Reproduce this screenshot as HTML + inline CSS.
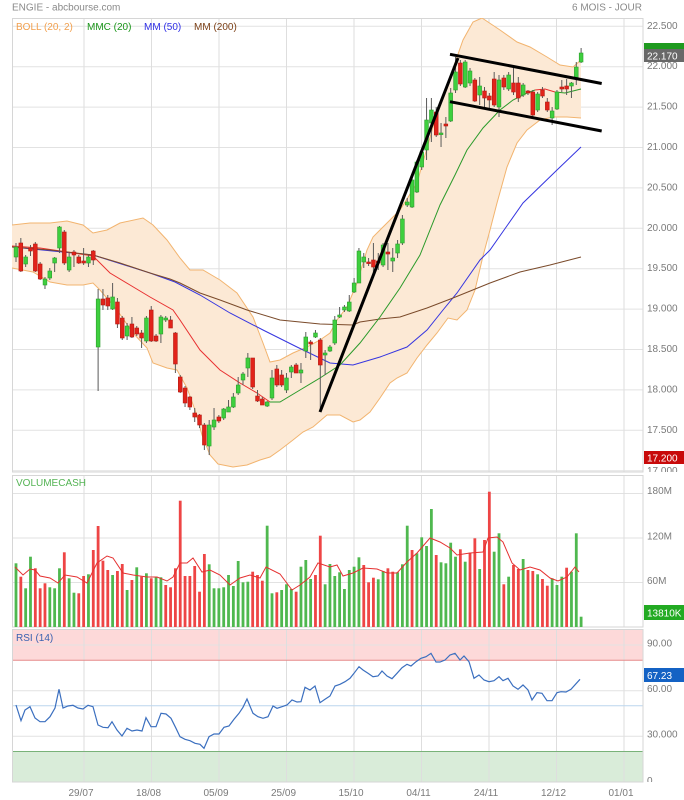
<!DOCTYPE html>
<html><head><meta charset="utf-8">
<style>
html,body{margin:0;padding:0;background:#fff;}
body{width:684px;height:800px;overflow:hidden;position:relative;font-family:"Liberation Sans",Arial,sans-serif;}
svg{position:absolute;left:0;top:0;display:block;}
</style></head><body>
<svg id="c" width="684" height="800" viewBox="0 0 684 800" xmlns="http://www.w3.org/2000/svg" font-family="Liberation Sans, Arial, sans-serif">
<defs>
 <clipPath id="cpP"><rect x="12" y="18" width="631" height="454"/></clipPath>
 <clipPath id="cpV"><rect x="12" y="475" width="631" height="152"/></clipPath>
 <clipPath id="cpR"><rect x="12" y="629" width="631" height="153"/></clipPath>
 <clipPath id="cpPL"><rect x="644" y="18" width="40" height="454"/></clipPath>
 <clipPath id="cpRL"><rect x="644" y="629" width="40" height="153"/></clipPath>
</defs>
<rect x="0" y="0" width="684" height="800" fill="#fff"/>

<!-- RSI zones -->
<rect x="12" y="629" width="631" height="31" fill="#fdd9d9"/>
<rect x="12" y="751" width="631" height="31" fill="#d9ecd9"/>

<!-- grid -->
<g stroke="#e2e2e2" stroke-width="1" fill="none">
 <line x1="12" x2="643" y1="26.3" y2="26.3"/>
 <line x1="12" x2="643" y1="66.7" y2="66.7"/>
 <line x1="12" x2="643" y1="107.1" y2="107.1"/>
 <line x1="12" x2="643" y1="147.5" y2="147.5"/>
 <line x1="12" x2="643" y1="187.9" y2="187.9"/>
 <line x1="12" x2="643" y1="228.3" y2="228.3"/>
 <line x1="12" x2="643" y1="268.7" y2="268.7"/>
 <line x1="12" x2="643" y1="309.1" y2="309.1"/>
 <line x1="12" x2="643" y1="349.5" y2="349.5"/>
 <line x1="12" x2="643" y1="389.9" y2="389.9"/>
 <line x1="12" x2="643" y1="430.3" y2="430.3"/>
 <line x1="12" x2="643" y1="470.7" y2="470.7"/>
 <line x1="12" x2="643" y1="493.5" y2="493.5"/>
 <line x1="12" x2="643" y1="538" y2="538"/>
 <line x1="12" x2="643" y1="582.5" y2="582.5"/>
 <line x1="12" x2="643" y1="645" y2="645"/>
 <line x1="12" x2="643" y1="690.7" y2="690.7"/>
 <line x1="12" x2="643" y1="736.3" y2="736.3"/>
</g>
<g id="vgrid" stroke="#dedede" stroke-width="1"></g>
<line x1="12" x2="643" y1="660.3" y2="660.3" stroke="#e58a8a" stroke-width="1"/>
<line x1="12" x2="643" y1="751.5" y2="751.5" stroke="#79b279" stroke-width="1"/>
<line x1="12" x2="643" y1="705.7" y2="705.7" stroke="#bcd5ee" stroke-width="1"/>

<!-- panel borders -->
<g stroke="#d6d6d6" stroke-width="1" fill="none">
 <rect x="12.5" y="18.5" width="630.5" height="453.5"/>
 <rect x="12.5" y="475.5" width="630.5" height="151.5"/>
 <rect x="12.5" y="629.5" width="630.5" height="152.5"/>
</g>

<g clip-path="url(#cpP)">
 <g id="band"></g>
 <g id="mas"></g>
 <g id="candles"></g>
 <g stroke="#000" stroke-width="3" fill="none" stroke-linecap="butt">
  <line x1="320" y1="412" x2="458" y2="58"/>
  <line x1="450" y1="54.3" x2="601.7" y2="83.5"/>
  <line x1="450" y1="101.7" x2="601.7" y2="131"/>
 </g>
</g>
<g clip-path="url(#cpV)">
 <g id="vol"></g>
 <polyline id="vavg" fill="none" stroke="#e53030" stroke-width="1"/>
</g>
<g clip-path="url(#cpR)">
 <polyline id="rsi" fill="none" stroke="#3b6fbf" stroke-width="1.2"/>
</g>

<!-- texts -->
<text x="12" y="10.5" font-size="10" fill="#8a8a8a">ENGIE - abcbourse.com</text>
<text x="642" y="10.5" font-size="10" fill="#8a8a8a" text-anchor="end">6 MOIS - JOUR</text>
<g font-size="10">
 <text x="16" y="30" fill="#f2a04e">BOLL (20, 2)</text>
 <text x="87" y="30" fill="#1a951a">MMC (20)</text>
 <text x="144" y="30" fill="#2f2fe6">MM (50)</text>
 <text x="194" y="30" fill="#7b3f16">MM (200)</text>
 <text x="16" y="486" fill="#55b455">VOLUMECASH</text>
 <text x="16" y="641" fill="#3a62b0">RSI (14)</text>
</g>

<g font-size="10" fill="#7a7a7a" clip-path="url(#cpPL)">
 <text x="647" y="28.8">22.500</text>
 <text x="647" y="69.2">22.000</text>
 <text x="647" y="109.6">21.500</text>
 <text x="647" y="150">21.000</text>
 <text x="647" y="190.4">20.500</text>
 <text x="647" y="230.8">20.000</text>
 <text x="647" y="271.2">19.500</text>
 <text x="647" y="311.6">19.000</text>
 <text x="647" y="352">18.500</text>
 <text x="647" y="392.4">18.000</text>
 <text x="647" y="432.8">17.500</text>
 <text x="647" y="473.8">17.000</text>
</g>
<g font-size="10" fill="#7a7a7a">
 <text x="647" y="494">180M</text>
 <text x="647" y="539.5">120M</text>
 <text x="647" y="584">60M</text>
</g>
<g font-size="10" fill="#7a7a7a" clip-path="url(#cpRL)">
 <text x="647" y="646.6">90.00</text>
 <text x="647" y="692">60.00</text>
 <text x="647" y="737.6">30.000</text>
 <text x="647" y="784">0</text>
</g>
<g font-size="10" fill="#7a7a7a" text-anchor="middle">
 <text x="81" y="796">29/07</text>
 <text x="148.5" y="796">18/08</text>
 <text x="216" y="796">05/09</text>
 <text x="283.5" y="796">25/09</text>
 <text x="351" y="796">15/10</text>
 <text x="418.5" y="796">04/11</text>
 <text x="486" y="796">24/11</text>
 <text x="553.5" y="796">12/12</text>
 <text x="621" y="796">01/01</text>
</g>

<!-- value boxes -->
<rect x="644" y="43" width="40" height="13" fill="#1f9a1f"/>
<rect x="644" y="49" width="40" height="13" fill="#686868"/>
<text x="647" y="59.5" font-size="10" fill="#fff">22.170</text>
<rect x="644" y="451" width="40" height="13" fill="#c80a0a"/>
<text x="647" y="461.3" font-size="10" fill="#fff">17.200</text>
<rect x="644" y="605" width="40" height="15" fill="#22aa22"/>
<text x="647" y="616.3" font-size="10" fill="#fff">13810K</text>
<rect x="644" y="668" width="40" height="14" fill="#1462c4"/>
<text x="647" y="679" font-size="10" fill="#fff">67.23</text>
</svg>
<script>
(function(){
var NS="http://www.w3.org/2000/svg";
function el(t,a,p){var e=document.createElementNS(NS,t);for(var k in a)e.setAttribute(k,a[k]);p.appendChild(e);return e;}
function $(id){return document.getElementById(id);}
function X(i){return 16+i*4.83;}
function pts(a){return a.map(function(p){return p[0]+","+p[1];}).join(" ");}

// vertical grid
var vx=[84,151.5,219,286.5,354,421.5,489,556.5,624];
vx.forEach(function(x){
  [[18,472],[475,627],[629,782]].forEach(function(r){
    el("line",{x1:x,x2:x,y1:r[0],y2:r[1]},$("vgrid"));
  });
});

// Bollinger
var up=[[12,225],[30,223],[50,223],[67,221],[83,225],[93,233],[107,230],[120,223],[143,218],[153,225],[167,240],[180,258],[190,270],[203,270],[220,280],[237,293],[253,317],[263,343],[270,362],[280,360],[293,353],[307,347],[320,340],[330,333],[337,320],[347,307],[357,283],[367,250],[373,237],[380,230],[400,210],[417,183],[433,127],[450,77],[463,40],[473,22],[482,18],[488,22],[500,30],[517,42],[530,47],[547,57],[560,65],[573,67],[581,60]];
var lo=[[12,268],[33,272],[50,282],[67,285],[83,285],[93,283],[100,290],[117,310],[133,333],[147,348],[153,363],[167,368],[177,370],[187,388],[195,410],[202,435],[210,455],[218,464],[233,467],[247,465],[260,460],[270,457],[280,450],[293,440],[303,432],[313,427],[327,415],[340,415],[353,422],[360,420],[370,412],[380,398],[390,383],[397,378],[407,373],[417,358],[427,345],[437,333],[448,318],[457,320],[467,310],[475,290],[483,256],[490,230],[497,203],[507,167],[517,143],[527,130],[540,120],[553,117],[567,117],[581,118]];
var b=$("band");
el("polygon",{points:pts(up.concat(lo.slice().reverse())),fill:"#fce9d5",stroke:"none"},b);
el("polyline",{points:pts(up),fill:"none",stroke:"#f2b46f","stroke-width":1},b);
el("polyline",{points:pts(lo),fill:"none",stroke:"#f2b46f","stroke-width":1},b);

// MAs
var m=$("mas");
var blue=[[12,247],[93,255],[150,273],[175,282],[200,295],[230,313],[263,330],[297,347],[330,363],[353,365],[380,357],[407,347],[427,330],[443,310],[457,293],[480,260],[490,250],[523,203],[557,170],[581,147]];
var brown=[[12,247],[50,250],[93,255],[120,263],[150,273],[170,279],[180,283],[200,293],[220,300],[247,310],[280,320],[320,324],[353,325],[360,322],[380,319],[400,317],[427,308],[453,298],[490,283],[520,272],[550,265],[581,257]];
var red1=[[12,246],[40,248],[67,252],[93,256],[110,273],[130,285],[150,297],[173,310],[180,320],[200,350],[220,370],[240,383],[257,393],[270,402]];
var green1=[[270,402],[280,402],[300,390],[320,378],[340,365],[360,343],[380,317],[400,288],[420,255],[440,205],[455,175],[467,150],[483,128],[500,110],[513,100],[527,93],[535,90]];
var red2=[[535,90],[545,89],[555,92]];
var green2=[[555,92],[565,93],[581,89]];
el("polyline",{points:pts(blue),fill:"none",stroke:"#3535e0","stroke-width":1},m);
el("polyline",{points:pts(red1),fill:"none",stroke:"#e83030","stroke-width":1},m);
el("polyline",{points:pts(brown),fill:"none",stroke:"#7a4a2a","stroke-width":1},m);
el("polyline",{points:pts(green1),fill:"none",stroke:"#2a9a2a","stroke-width":1},m);
el("polyline",{points:pts(red2),fill:"none",stroke:"#e83030","stroke-width":1},m);
el("polyline",{points:pts(green2),fill:"none",stroke:"#2a9a2a","stroke-width":1},m);

// candles: [bodyTop, bodyBot, wickTop, wickBot, color]
var C=[
[247,257,243,262,"g"],[243,271,238,272,"r"],[257,264,255,267,"g"],[248,251,245,256,"r"],[244,271,242,272,"r"],
[264,279,262,280,"r"],[279,285,277,289,"g"],[271,278,268,280,"g"],[258,263,257,272,"g"],[227,248,226,253,"g"],
[232,263,230,265,"r"],[257,270,253,272,"g"],[252,255,250,267,"r"],[257,263,255,264,"r"],[261,263,248,265,"r"],
[257,263,255,267,"g"],[251,260,250,265,"r"],[299,347,289,391,"g"],[299,305,289,310,"r"],[298,306,295,310,"r"],
[297,309,283,310,"g"],[302,324,298,328,"r"],[318,338,316,340,"r"],[326,336,323,340,"g"],[324,337,317,338,"r"],
[328,334,326,336,"r"],[333,338,330,348,"r"],[318,341,316,343,"g"],[310,341,306,342,"r"],[336,341,334,342,"r"],
[317,334,315,343,"g"],[318,320,316,322,"g"],[320,328,316,328,"r"],[333,364,332,373,"r"],[377,392,375,393,"r"],
[388,403,386,407,"r"],[397,407,396,410,"r"],[413,417,408,422,"r"],[415,425,414,428,"r"],[425,445,423,450,"r"],
[425,446,420,455,"g"],[420,427,408,430,"g"],[417,421,415,423,"r"],[409,418,408,420,"g"],[407,412,400,412,"g"],
[397,407,393,408,"g"],[385,393,377,395,"g"],[374,380,372,385,"g"],[358,368,353,377,"g"],[358,387,358,389,"r"],
[396,401,390,402,"r"],[399,405,397,405,"r"],[402,406,401,407,"g"],[378,398,370,400,"g"],[369,385,365,387,"r"],
[375,385,370,387,"r"],[378,390,373,393,"g"],[367,372,365,378,"g"],[365,373,363,373,"r"],[370,373,363,383,"g"],
[337,351,332,358,"g"],[342,344,340,360,"r"],[333,337,330,338,"g"],[340,365,338,412,"r"],[353,355,350,375,"g"],
[347,351,345,352,"g"],[320,343,316,345,"g"],[315,317,307,318,"g"],[307,310,305,312,"g"],[302,311,295,312,"g"],
[283,292,278,293,"g"],[251,283,248,283,"g"],[257,262,253,268,"g"],[262,263,258,266,"r"],[260,267,243,273,"r"],
[261,263,253,270,"r"],[245,265,243,267,"g"],[252,254,243,270,"r"],[258,261,248,272,"g"],[244,253,240,258,"g"],
[219,243,215,245,"g"],[202,205,198,207,"g"],[180,207,178,208,"g"],[162,192,160,193,"g"],[152,167,150,170,"g"],
[120,150,98,160,"g"],[110,123,98,142,"g"],[112,135,107,137,"r"],[133,134,123,147,"g"],[124,126,117,138,"r"],
[93,121,88,122,"g"],[72,90,57,93,"g"],[63,84,60,86,"r"],[62,87,60,88,"g"],[71,83,68,86,"g"],
[80,101,78,102,"r"],[86,95,77,105,"g"],[91,98,87,107,"r"],[96,100,93,108,"r"],[79,105,72,107,"r"],
[80,107,75,117,"g"],[78,87,75,90,"r"],[75,89,72,91,"g"],[83,92,68,95,"r"],[83,98,77,102,"r"],
[85,95,83,97,"g"],[91,93,90,95,"r"],[92,115,90,117,"r"],[94,110,92,112,"g"],[90,96,87,98,"r"],
[102,110,98,112,"r"],[111,118,107,125,"g"],[92,109,90,110,"g"],[87,89,80,92,"r"],[86,89,79,95,"r"],
[83,86,82,98,"g"],[67,78,62,85,"g"],[53,62,48,63,"g"]
];
var cg=$("candles");
C.forEach(function(c,i){
  var x=X(i);
  el("line",{x1:x,x2:x,y1:c[2],y2:c[3],stroke:"#5a5a5a","stroke-width":1},cg);
  var h=Math.max(1.6,c[1]-c[0]);
  var g=c[4]=="g";
  el("rect",{x:x-1.9,y:c[0],width:3.8,height:h,fill:g?"#3ecf3e":"#e2231a",stroke:g?"#2e9f2e":"#b31a12","stroke-width":0.6},cg);
});

// volume: top y, color
var V=[
[563.3,"g"],[576.7,"r"],[588.3,"g"],[556.7,"g"],[568.3,"r"],[588.3,"r"],[583.3,"r"],[587.3,"g"],[588.3,"g"],[568.3,"g"],
[552.3,"r"],[578.3,"g"],[592.7,"g"],[593.3,"r"],[576,"r"],[574.3,"g"],[550,"r"],[526,"r"],[560.7,"r"],[570,"r"],
[575,"g"],[571,"r"],[564,"r"],[590,"g"],[580,"r"],[567.3,"g"],[576.7,"r"],[573.3,"g"],[578.3,"r"],[576.7,"g"],
[577.3,"g"],[585,"r"],[587.3,"r"],[568.3,"r"],[500.7,"r"],[576,"r"],[576,"r"],[566,"r"],[591.7,"r"],[554,"r"],
[564.3,"g"],[588.3,"g"],[588.3,"g"],[587.3,"g"],[575,"g"],[586,"g"],[561,"g"],[582.3,"g"],[581.7,"g"],[571.7,"r"],
[575,"r"],[580.7,"r"],[525.7,"g"],[593.3,"g"],[592.3,"r"],[590,"g"],[584.3,"g"],[589,"g"],[591.7,"r"],[566.7,"g"],
[560,"g"],[579,"g"],[575,"r"],[535.7,"r"],[584.3,"g"],[564,"g"],[576,"g"],[572.3,"g"],[589,"g"],[570,"g"],
[566.7,"g"],[557.3,"g"],[565,"r"],[582.3,"r"],[577.7,"r"],[579.3,"g"],[571,"g"],[568.3,"r"],[571.7,"r"],[572.3,"g"],
[564.3,"g"],[525.7,"g"],[550,"r"],[553.3,"g"],[537.3,"g"],[546,"g"],[509,"g"],[555,"r"],[562.3,"g"],[563.3,"g"],
[542.7,"g"],[556.7,"g"],[549.3,"r"],[561.7,"g"],[552.7,"r"],[538.3,"r"],[569,"g"],[540,"r"],[491.7,"r"],[551.7,"g"],
[533.3,"g"],[584.3,"r"],[576.7,"g"],[565,"r"],[569,"r"],[559,"g"],[570,"r"],[571,"r"],[574.3,"g"],[579,"r"],
[585.7,"r"],[578.3,"g"],[585,"g"],[576.7,"g"],[567.7,"r"],[571.7,"g"],[533.3,"g"],[616.7,"g"]
];
var vg=$("vol");
V.forEach(function(v,i){
  var x=X(i);
  el("rect",{x:x-1.4,y:v[0],width:2.8,height:627-v[0],fill:v[1]=="g"?"#4fb84f":"#ee4545"},vg);
});

var VA=[[15,567],[23,575],[30,569],[35,570],[40,576],[50,578],[58,583],[65,575],[77,577],[87,583],[97,563],[107,556],[113,558],[123,573],[133,575],[147,577],[157,577],[167,581],[173,577],[180,563],[187,563],[193,558],[202,572],[210,570],[220,575],[230,585],[240,578],[250,575],[260,578],[266,567],[280,574],[292,590],[300,585],[310,577],[318,563],[330,567],[337,565],[343,576],[353,573],[363,568],[377,569],[387,573],[397,573],[407,562],[417,553],[430,538],[440,542],[450,548],[457,555],[470,553],[483,552],[488,538],[497,537],[503,542],[512,563],[520,570],[530,567],[540,570],[550,578],[558,581],[567,577],[575,567],[579,572]];
$("vavg").setAttribute("points",pts(VA));

var R=[[16,705],[21,720.7],[25,710],[30,706.7],[35,718],[40,721.7],[45,721.7],[50,716.7],[55,708],[59,689.3],[63,708],[68,706],[73,705.3],[78,708],[83,709],[88,705.3],[93,706.7],[98,725],[103,727.3],[108,727.7],[112,721.7],[117,730],[122,736],[127,728.3],[132,731],[137,730],[142,731],[146,717.7],[151,726.7],[156,726.7],[161,713.3],[166,714],[171,718.3],[176,728.3],[180,736.7],[185,739.3],[190,740.7],[195,743.3],[200,744.3],[204,748.3],[209,736.7],[214,734],[219,734],[224,727.3],[229,726],[234,719.3],[239,713.3],[243,707.3],[247,699],[253,713.3],[258,716.7],[263,718.3],[268,716.7],[273,706],[277,708.3],[282,706.7],[287,705],[292,700],[297,702],[301,701.7],[305,687.3],[310,690],[315,686],[320,702.7],[325,699.3],[330,696],[335,686],[340,684.3],[345,681.7],[350,678.3],[354,673.3],[359,666.7],[363,670],[368,673.3],[373,676.7],[378,676],[382,671],[387,676],[392,678.7],[397,673.3],[402,667.7],[407,664.3],[411,666],[416,661.7],[421,658.3],[426,656.7],[431,653.3],[436,662],[440,662],[445,660],[450,655],[455,653.3],[460,660],[464,656],[469,661.7],[474,678.3],[479,675],[484,680],[489,681.7],[494,680.7],[499,676.7],[503,680.7],[508,678.3],[513,686],[518,689.3],[523,685],[528,690],[532,700],[537,692.7],[542,693.3],[547,700.7],[552,700.7],[557,692.7],[561,691.7],[566,692],[571,689.3],[580,679.3]];
$("rsi").setAttribute("points",pts(R));
})();
</script>
</body></html>
